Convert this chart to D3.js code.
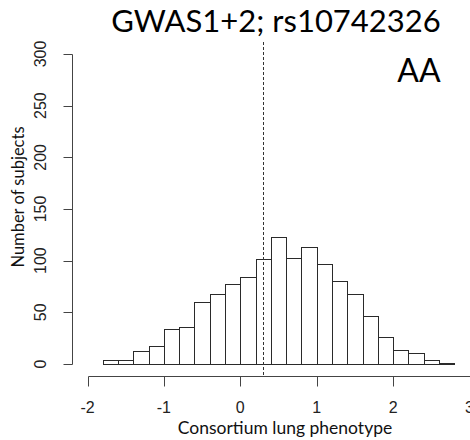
<!DOCTYPE html>
<html>
<head>
<meta charset="utf-8">
<script src="https://cdn.jsdelivr.net/npm/d3@7"></script>
<style>
  body { margin: 0; background: #fff; }
</style>
</head>
<body>
<div id="chart"></div>
<script>
// histogram bins (left edges, width 0.2) and counts
const binLefts = [-1.8, -1.6, -1.4, -1.2, -1.0, -0.8, -0.6, -0.4, -0.2, 0.0, 0.2, 0.4,
                  0.6, 0.8, 1.0, 1.2, 1.4, 1.6, 1.8, 2.0, 2.2, 2.4, 2.6];
const binWidth = 0.2;
const counts = [4, 4, 13, 17, 34, 36, 60, 68, 77, 84, 102, 123,
                103, 113, 97, 80, 68, 46, 26, 14, 11, 4, 1];
const xTicks = [-2, -1, 0, 1, 2, 3];
const yTicks = [0, 50, 100, 150, 200, 250, 300];
const markerX = 0.3;   // dashed vertical line
const title = "GWAS1+2; rs10742326";
const genotype = "AA";
const xLabel = "Consortium lung phenotype";
const yLabel = "Number of subjects";

const width = 470, height = 440;

const svg = d3.select("#chart")
    .append("svg")
    .attr("width", width)
    .attr("height", height);

const x = d3.scaleLinear().domain([-2, 3]).range([87.5, 469.5]);
const y = d3.scaleLinear().domain([0, 300]).range([364, 54]);

const px = v => Math.round(v) + 0.5;

// bars
svg.append("g")
    .selectAll("rect")
    .data(binLefts.map((b, i) => ({ x0: b, x1: b + binWidth, n: counts[i] })))
    .enter()
    .append("rect")
    .attr("x", d => px(x(d.x0)))
    .attr("y", d => px(y(d.n)))
    .attr("width", d => Math.round(x(d.x1)) - Math.round(x(d.x0)))
    .attr("height", d => Math.round(y(0)) - Math.round(y(d.n)))
    .attr("fill", "#fff")
    .attr("stroke", "#2a2a2a")
    .attr("stroke-width", 1);

// y axis (R style: vertical labels)
const yAxis = svg.append("g").attr("transform", "translate(72.5,0)");
yAxis.append("line")
    .attr("y1", px(y(0))).attr("y2", px(y(300)))
    .attr("stroke", "#444");
yAxis.selectAll("line.tick")
    .data(yTicks)
    .enter()
    .append("line")
    .attr("class", "tick")
    .attr("x1", 0).attr("x2", -9)
    .attr("y1", d => px(y(d))).attr("y2", d => px(y(d)))
    .attr("stroke", "#444");
svg.selectAll("text.ytick")
    .data(yTicks)
    .enter()
    .append("text")
    .attr("class", "ytick")
    .attr("transform", d => `translate(46,${y(d)}) rotate(-90)`)
    .attr("text-anchor", "middle")
    .style("font-family", "'Liberation Sans', Arial, sans-serif")
    .style("font-size", "16px")
    .style("fill", "#222")
    .text(d => d);

// x axis
const xAxisY = 376.5;
svg.append("line")
    .attr("x1", px(x(-2))).attr("x2", px(x(3)))
    .attr("y1", xAxisY).attr("y2", xAxisY)
    .attr("stroke", "#444");
svg.selectAll("line.xtick")
    .data(xTicks)
    .enter()
    .append("line")
    .attr("class", "xtick")
    .attr("x1", d => px(x(d))).attr("x2", d => px(x(d)))
    .attr("y1", xAxisY).attr("y2", xAxisY + 10)
    .attr("stroke", "#444");
svg.selectAll("text.xtick")
    .data(xTicks)
    .enter()
    .append("text")
    .attr("class", "xtick")
    .attr("x", d => x(d))
    .attr("y", 413)
    .attr("text-anchor", "middle")
    .style("font-family", "'Liberation Sans', Arial, sans-serif")
    .style("font-size", "16px")
    .style("fill", "#222")
    .text(d => d);

// dashed marker line
svg.append("line")
    .attr("x1", px(x(markerX))).attr("x2", px(x(markerX)))
    .attr("y1", 42).attr("y2", xAxisY)
    .attr("stroke", "#333")
    .attr("stroke-dasharray", "3,2");

// texts
const label = "Lato, 'Open Sans', sans-serif";
svg.append("text")
    .attr("x", 276).attr("y", 32)
    .attr("text-anchor", "middle")
    .style("font-family", label)
    .style("font-size", "31px")
    .style("fill", "#000")
    .text(title);

svg.append("text")
    .attr("x", 419).attr("y", 82)
    .attr("text-anchor", "middle")
    .style("font-family", label)
    .style("font-size", "32px")
    .style("fill", "#000")
    .text(genotype);

svg.append("text")
    .attr("x", 285).attr("y", 434)
    .attr("text-anchor", "middle")
    .style("font-family", label)
    .style("font-size", "17.5px")
    .style("fill", "#111")
    .text(xLabel);

svg.append("text")
    .attr("transform", "translate(24,197) rotate(-90)")
    .attr("text-anchor", "middle")
    .style("font-family", label)
    .style("font-size", "16.5px")
    .style("fill", "#111")
    .text(yLabel);
</script>
</body>
</html>
